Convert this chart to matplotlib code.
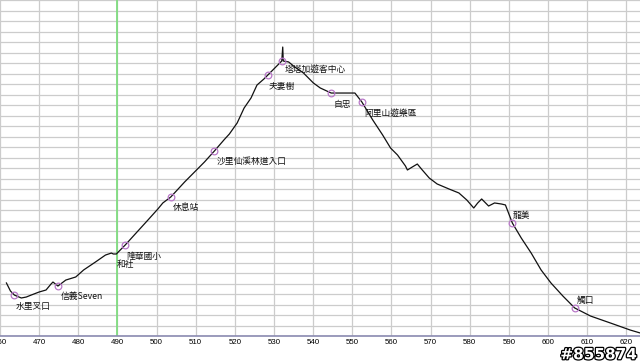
import numpy as np
import matplotlib
matplotlib.use("Agg")
import matplotlib.pyplot as plt
import matplotlib.patheffects as pe
from matplotlib.transforms import ScaledTranslation

plt.rcParams['font.family'] = ['Noto Sans CJK TC', 'DejaVu Sans']
plt.rcParams['savefig.bbox'] = 'standard'

# elevation profile (distance, elevation)
dist = [461.64, 462.66, 463.67, 465.44, 466.70, 467.97, 469.99, 471.76, 473.03, 473.53,
        474.80, 476.82, 479.35, 481.37, 484.40, 486.94, 488.45, 488.96, 489.72, 490.22,
        492.00, 494.53, 497.56, 500.34, 501.60, 503.63, 507.17, 509.70, 512.23, 514.77,
        517.30, 518.60, 520.59, 522.36, 524.13, 525.65, 527.43, 528.44, 530.46, 531.98,
        532.23, 532.36, 533.73, 535.00, 537.52, 540.05, 541.82, 544.60, 550.67, 552.44,
        555.23, 557.76, 559.78, 561.55, 563.58, 564.08, 565.35, 566.61, 567.88, 569.65,
        571.67, 574.71, 577.24, 579.26, 581.03, 582.04, 583.05, 584.82, 586.34, 588.11,
        589.12, 590.89, 593.17, 595.70, 598.23, 600.75, 603.79, 606.82, 610.87, 615.93,
        620.99, 623.52]
elev = [505, 429, 390, 362, 371, 390, 419, 438, 495, 514,
        476, 533, 562, 629, 705, 771, 790, 781, 781, 800,
        867, 971, 1095, 1210, 1267, 1324, 1467, 1562, 1657, 1762,
        1871, 1924, 2029, 2171, 2267, 2390, 2448, 2486, 2562, 2619,
        2752, 2619, 2610, 2571, 2505, 2410, 2362, 2314, 2314, 2229,
        2057, 1914, 1790, 1724, 1619, 1581, 1610, 1638, 1581, 1505,
        1448, 1400, 1362, 1295, 1219, 1267, 1305, 1238, 1267, 1257,
        1248, 1076, 933, 790, 629, 505, 381, 267, 190, 124,
        57, 29]

# stations along the route
stations = ['水里叉口', '信義Seven', '隆華國小', '和社', '休息站', '沙里仙溪林道入口',
            '夫妻樹', '塔塔加遊客中心', '自忠', '阿里山遊樂區', '龍美', '觸口']
station_x = [463.67, 474.80, 492.00, 489.72, 503.63, 514.77,
             528.44, 531.98, 544.60, 552.44, 590.89, 606.82]
has_marker = [True, True, True, False, True, True, True, True, True, True, True, True]
# label offsets in points
label_off = [(1, -5), (2, -4), (1, -5), (0, -4.5), (1.5, -4.5), (1.5, -4),
             (0.5, -5), (2, -2.5), (1.5, -5), (1.5, -5), (0.5, 2.5), (1.5, 2.5)]

xticks = list(range(460, 630, 10))
mark_x = 490

fig = plt.figure(figsize=(6.4, 3.64), dpi=100)
ax = fig.add_axes([0, 28 / 364, 1, 336 / 364])
ax.set_xlim(461.64, 623.5)
ax.set_ylim(0, 3200)

ax.set_xticks(xticks)
ax.set_xticklabels([str(t) for t in xticks], fontsize=5.7, family='Liberation Sans')
shift = ScaledTranslation(4 / 100, 0, fig.dpi_scale_trans)
for tick in ax.xaxis.get_major_ticks():
    tick.label1.set_transform(tick.label1.get_transform() + shift)
ax.set_yticks(np.arange(0, 3201, 100))
ax.set_yticklabels([])
ax.tick_params(axis='both', length=0, pad=2)
ax.grid(True, color='#cccccc', linewidth=0.9)
ax.set_axisbelow(True)
for s in ['left', 'right', 'top']:
    ax.spines[s].set_visible(False)
ax.spines['bottom'].set_color('#8a8ab0')
ax.spines['bottom'].set_linewidth(1.2)

ax.axvline(mark_x, color='#7fdc7f', linewidth=1.3, zorder=2)
ax.plot(dist, elev, color='#111111', linewidth=0.9, zorder=3)

for name, sx, hm, off in zip(stations, station_x, has_marker, label_off):
    sy = np.interp(sx, dist, elev)
    if hm:
        ax.plot(sx, sy, 'o', markersize=4.8, markerfacecolor='none',
                markeredgecolor='#b878c8', markeredgewidth=0.9, zorder=4)
    va = 'top' if off[1] < 0 else 'bottom'
    ax.annotate(name, (sx, sy), xytext=off, textcoords='offset points',
                fontsize=6.3, ha='left', va=va, color='#111111', zorder=5)

fig.text(0.995, 0.005, '#855874', ha='right', va='bottom', fontsize=11,
         fontweight='bold', family='DejaVu Sans', color='white',
         path_effects=[pe.withStroke(linewidth=1.8, foreground='black')])

fig.savefig('out.png', dpi=100, bbox_inches=None)
